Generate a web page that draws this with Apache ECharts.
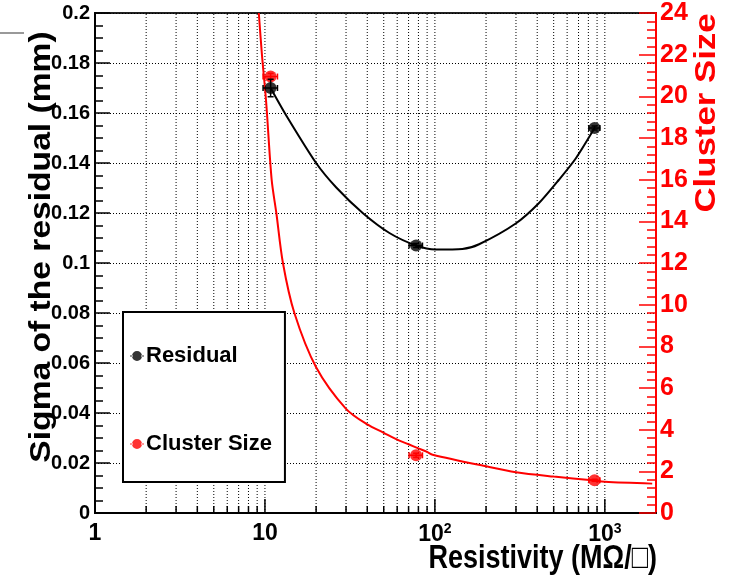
<!DOCTYPE html>
<html>
<head>
<meta charset="utf-8">
<script src="https://cdn.jsdelivr.net/npm/echarts@6.0.0/dist/echarts.min.js"></script>
<style>html,body{margin:0;padding:0;background:#fff;}#c{width:735px;height:580px;}</style>
</head>
<body>
<div id="c"></div>
<script>
// ---- data ----
const resistivity = [10.8, 77.5, 870];
const resistivityErr = [1.05, 7, 65];
const residual = [0.170, 0.107, 0.154];
const residualErr = [0.0035, 0.0008, 0.0008];
const clusterSize = [20.95, 2.77, 1.57];
const clusterSizeErr = [0.15, 0.1, 0.05];

const residualFitX = [10.8, 13.4, 20.0, 26.2, 37.6, 54, 77.5, 101, 145, 182, 299, 410, 537, 674, 870];
const residualFitY = [0.170, 0.1588, 0.140, 0.1303, 0.120, 0.112, 0.107, 0.1054, 0.1056, 0.1075, 0.1158, 0.1240, 0.1333, 0.1418, 0.154];

const clusterFitX = [9.2, 9.6, 10.15, 10.95, 11.67, 12.76, 14.9, 20, 30, 40, 50, 60, 70, 80, 90, 97, 200, 300, 500, 843, 1000, 1900];
const clusterFitY = [24.0, 22.0, 19.8, 16.0, 14.4, 12.0, 9.6, 7.0, 5.0, 4.25, 3.85, 3.52, 3.30, 3.10, 2.93, 2.80, 2.24, 1.96, 1.75, 1.57, 1.50, 1.41];

const xMajorTicks = [1, 10, 100, 1000];
const xTickLabels = ['1', '10', '10{sup|2}', '10{sup|3}'];
const xMinorTicks = [2,3,4,5,6,7,8,9,20,30,40,50,60,70,80,90,200,300,400,500,600,700,800,900];
const xGridValues = [2,3,4,5,6,7,8,9,10,20,30,40,50,60,70,80,90,100,200,300,400,500,600,700,800,900,1000];

// ---- build ----
const FONT = '"Liberation Sans", Arial, Helvetica, sans-serif';
const chart = echarts.init(document.getElementById('c'), null, {renderer: 'canvas'});

const residualPts = resistivity.map((x, i) => [x, residual[i]]);
const clusterPts = resistivity.map((x, i) => [x, clusterSize[i]]);
const residualErrData = resistivity.map((x, i) => [x, residual[i], resistivityErr[i], residualErr[i]]);
const clusterErrData = resistivity.map((x, i) => [x, clusterSize[i], resistivityErr[i], clusterSizeErr[i]]);
const residualFit = residualFitX.map((x, i) => [x, residualFitY[i]]);
const clusterFit = clusterFitX.map((x, i) => [x, clusterFitY[i]]);

function errRender(color) {
  return function (params, api) {
    const x = api.value(0), y = api.value(1), xe = api.value(2), ye = api.value(3);
    const p1 = api.coord([x - xe, y]), p2 = api.coord([x + xe, y]);
    const q1 = api.coord([x, y - ye]), q2 = api.coord([x, y + ye]);
    const st = {stroke: color, lineWidth: 1.5};
    const c = 3;
    return {type: 'group', children: [
      {type: 'line', shape: {x1: p1[0], y1: p1[1], x2: p2[0], y2: p2[1]}, style: st},
      {type: 'line', shape: {x1: p1[0], y1: p1[1] - c, x2: p1[0], y2: p1[1] + c}, style: st},
      {type: 'line', shape: {x1: p2[0], y1: p2[1] - c, x2: p2[0], y2: p2[1] + c}, style: st},
      {type: 'line', shape: {x1: q1[0], y1: q1[1], x2: q2[0], y2: q2[1]}, style: st},
      {type: 'line', shape: {x1: q1[0] - c, y1: q1[1], x2: q1[0] + c, y2: q1[1]}, style: st},
      {type: 'line', shape: {x1: q2[0] - c, y1: q2[1], x2: q2[0] + c, y2: q2[1]}, style: st}
    ]};
  };
}

const gridData = xGridValues.map(v => [v, 0]);
const tickData = xMajorTicks.concat(xMinorTicks).map(v => [v, 0, xMajorTicks.indexOf(v) >= 0 ? 1 : 0]);

const legendIcon = 'path://M0,4.4h3v1.2h-3z M11,4.4h3v1.2h-3z M7,0a5,5 0 1,0 0.001,0z';

chart.setOption({
  animation: false,
  backgroundColor: '#fff',
  grid: {left: 95, top: 13, right: 79, bottom: 67, show: true, borderColor: '#222', borderWidth: 2, backgroundColor: 'transparent', containLabel: false, outerBoundsMode: 'none'},
  legend: {
    left: 123, top: 312, orient: 'vertical',
    padding: [33, 13, 27, 7], itemGap: 66, itemWidth: 14, itemHeight: 10,
    backgroundColor: '#fff', borderColor: '#000', borderWidth: 2, borderRadius: 0,
    textStyle: {fontFamily: FONT, fontWeight: 'bold', fontSize: 22, color: '#000', padding: [0, 0, 0, -3]},
    data: [{name: 'Residual', icon: legendIcon}, {name: 'Cluster Size', icon: legendIcon}]
  },
  xAxis: {
    type: 'log', logBase: 10, min: 1, max: 2000,
    axisLine: {show: true, lineStyle: {color: '#000', width: 2}},
    axisTick: {show: false},
    splitLine: {show: false},
    axisLabel: {
      show: true, margin: 9, color: '#000', fontFamily: FONT, fontWeight: 'bold', fontSize: 23,
      showMaxLabel: false,
      formatter: function (v) {
        for (let i = 0; i < xMajorTicks.length; i++) {
          if (Math.abs(v - xMajorTicks[i]) / xMajorTicks[i] < 1e-6) return xTickLabels[i];
        }
        return '';
      },
      rich: {sup: {fontSize: 14, fontWeight: 'bold', fontFamily: FONT, color: '#000', verticalAlign: 'top', padding: [0, 0, 11, 0]}}
    }
  },
  yAxis: [{
    type: 'value', min: 0, max: 0.2, interval: 0.02, position: 'left',
    axisLine: {show: true, lineStyle: {color: '#000', width: 2}},
    axisTick: {show: true, inside: true, length: 15, lineStyle: {color: '#000', width: 1.5}},
    minorTick: {show: true, splitNumber: 4, length: 8, lineStyle: {color: '#000', width: 1.5}},
    splitLine: {show: true, lineStyle: {color: '#000', width: 1, type: [1, 2]}},
    axisLabel: {margin: 5, color: '#000', fontFamily: FONT, fontWeight: 'bold', fontSize: 20}
  }, {
    type: 'value', min: 0, max: 24, interval: 2, position: 'right',
    axisLine: {show: true, lineStyle: {color: '#f00', width: 2}},
    axisTick: {show: true, inside: true, length: 17, lineStyle: {color: '#f00', width: 1.5}},
    minorTick: {show: true, splitNumber: 5, length: 9, lineStyle: {color: '#f00', width: 1.5}},
    splitLine: {show: false},
    axisLabel: {margin: 4, color: '#f00', fontFamily: FONT, fontWeight: 'bold', fontSize: 25}
  }],
  graphic: [
    {type: 'line', shape: {x1: 0, y1: 33, x2: 24, y2: 33}, style: {stroke: '#999', lineWidth: 2}},
    {type: 'text', x: 42, y: 247, rotation: Math.PI / 2, scaleX: 1.12,
     style: {text: 'Sigma of the residual (mm)', font: 'bold 30px ' + FONT, fill: '#000', align: 'center', verticalAlign: 'middle'}},
    {type: 'text', x: 657, y: 559, scaleY: 1.25,
     style: {text: 'Resistivity (MΩ/□)', font: 'bold 27px ' + FONT, fill: '#000', align: 'right', verticalAlign: 'middle'}},
    {type: 'text', x: 707, y: 113, rotation: Math.PI / 2, scaleX: 1.2,
     style: {text: 'Cluster Size', font: 'bold 29px ' + FONT, fill: '#f00', align: 'center', verticalAlign: 'middle'}}
  ],
  series: [
    {
      type: 'custom', name: 'xgrid', z: 1, silent: true, clip: true,
      data: gridData,
      renderItem: function (params, api) {
        const v = api.value(0);
        const a = api.coord([v, 0]), b = api.coord([v, 0.2]);
        return {type: 'line', shape: {x1: a[0], y1: a[1], x2: b[0], y2: b[1]}, style: {stroke: '#000', lineWidth: 1, lineDash: [1, 2]}};
      }
    },
    {
      type: 'custom', name: 'xticks', z: 2, silent: true,
      data: tickData,
      renderItem: function (params, api) {
        const v = api.value(0);
        const len = api.value(2) ? 14 : 7;
        const a = api.coord([v, 0]);
        return {type: 'line', shape: {x1: a[0], y1: a[1], x2: a[0], y2: a[1] - len}, style: {stroke: '#000', lineWidth: 1.5}};
      }
    },
    {
      type: 'line', name: 'Cluster Size fit', yAxisIndex: 1, data: clusterFit, z: 3,
      showSymbol: false, symbol: 'none', smooth: 0.3, clip: true,
      lineStyle: {color: '#f00', width: 2}
    },
    {
      type: 'line', name: 'Residual fit', yAxisIndex: 0, data: residualFit, z: 3,
      showSymbol: false, symbol: 'none', smooth: 0.25,
      lineStyle: {color: '#000', width: 2}
    },
    {
      type: 'custom', name: 'Cluster err', yAxisIndex: 1, z: 4, data: clusterErrData,
      renderItem: errRender('#f00'), encode: {x: 0, y: 1}
    },
    {
      type: 'scatter', name: 'Cluster Size', yAxisIndex: 1, data: clusterPts, z: 5,
      symbol: 'circle', symbolSize: 12, itemStyle: {color: '#f00'}
    },
    {
      type: 'custom', name: 'Residual err', yAxisIndex: 0, z: 6, data: residualErrData,
      renderItem: errRender('#000'), encode: {x: 0, y: 1}
    },
    {
      type: 'scatter', name: 'Residual', yAxisIndex: 0, data: residualPts, z: 7,
      symbol: 'circle', symbolSize: 12, itemStyle: {color: '#000'}
    }
  ]
});
</script>
</body>
</html>
